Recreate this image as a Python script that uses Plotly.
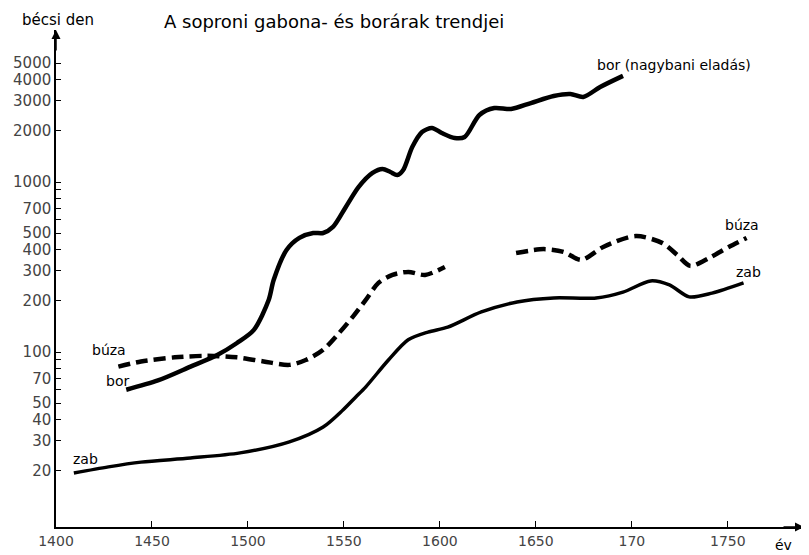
import plotly.graph_objects as go

# bor (wine) price trend, bécsi den
bor_years = [1436.6, 1453.1, 1470.1, 1484.0, 1494.3, 1503.1, 1510.8, 1513.4, 1520.1,
             1526.8, 1534.0, 1539.2, 1544.3, 1551.0, 1557.7, 1564.9, 1570.1, 1574.2, 1577.8,
             1580.9, 1585.6, 1590.7, 1595.9, 1601.0, 1607.7, 1612.9, 1620.6, 1628.4, 1637.1,
             1647.4, 1659.3, 1668.0, 1674.7, 1683.5, 1695.4]
bor_values = [60, 68, 82, 96, 113, 135, 202, 265, 398,
              469, 501, 501, 544, 713, 935, 1130, 1192, 1145, 1099,
              1177, 1607, 1968, 2078, 1942, 1815, 1840, 2479, 2722, 2686,
              2914, 3208, 3296, 3163, 3620, 4209]

# búza (wheat), two separate stretches
buza1_years = [1432.5, 1444.3, 1461.9, 1478.9, 1494.3, 1508.2, 1521.6, 1530.4, 1539.2,
               1547.4, 1554.6, 1561.3, 1568.0, 1575.3, 1583.5, 1592.3, 1602.6]
buza1_values = [82, 88, 93, 95, 93, 88, 84, 90, 103,
                129, 161, 202, 255, 284, 296, 284, 316]
buza2_years = [1639.7, 1654.1, 1664.4, 1673.7, 1685.1, 1702.1, 1716.0, 1723.7, 1730.4,
               1740.2, 1750.5, 1759.8]
buza2_values = [382, 403, 388, 348, 415, 481, 437, 372, 321, 357, 415, 469]

# zab (oats)
zab_years = [1409.3, 1427.3, 1444.3, 1470.1, 1495.9, 1521.6, 1539.2, 1549.5, 1556.2, 1561.3,
             1573.2, 1583.5, 1593.8, 1604.1, 1621.6, 1640.2, 1659.3, 1681.4, 1695.4, 1709.8,
             1719.6, 1729.9, 1741.8, 1758.2]
zab_values = [19.4, 21.1, 22.5, 23.8, 25.5, 29.6, 36.2, 45.6, 54.4, 62.2,
              89.7, 118, 131, 140, 172, 197, 208, 208, 225, 262,
              248, 211, 222, 255]

x_ticks = [1400, 1450, 1500, 1550, 1600, 1650, 1700, 1750]
x_labels = ["1400", "1450", "1500", "1550", "1600", "1650", "170", "1750"]
y_ticks = [20, 30, 40, 50, 60, 70, 80, 90, 100, 200, 300, 400, 500, 600, 700, 800, 900,
           1000, 2000, 3000, 4000, 5000]
y_labels = ["20", "30", "40", "50", "", "70", "", "", "100", "200", "300", "400", "500", "",
            "700", "", "", "1000", "2000", "3000", "4000", "5000"]

FONT = "'DejaVu Sans', sans-serif"

fig = go.Figure()
fig.add_trace(go.Scatter(x=bor_years, y=bor_values, mode="lines", name="bor",
                         line={"color": "black", "width": 4.5, "shape": "spline", "smoothing": 0.8}))
for yrs, vals in [(buza1_years, buza1_values), (buza2_years, buza2_values)]:
    fig.add_trace(go.Scatter(x=yrs, y=vals, mode="lines", name="búza",
                             line={"color": "black", "width": 4.5, "dash": "12px,6px",
                                   "shape": "spline", "smoothing": 0.8}))
fig.add_trace(go.Scatter(x=zab_years, y=zab_values, mode="lines", name="zab",
                         line={"color": "black", "width": 3.5, "shape": "spline", "smoothing": 0.8}))

labels = [
    ("A soproni gabona- és borárak trendjei", 0.1415, 1.018, 18),
    ("bécsi den", -0.0476, 1.020, 15),
    ("bor (nagybani eladás)", 0.7209, 0.9296, 14),
    ("búza", 0.8915, 0.6076, 14),
    ("zab", 0.906, 0.513, 14),
    ("búza", 0.045, 0.356, 14),
    ("bor", 0.0648, 0.2938, 14),
    ("zab", 0.0198, 0.1368, 14),
    ("év", 0.959, -0.036, 14),
]
for text, x, y, size in labels:
    fig.add_annotation(text=text, x=x, y=y, xref="paper", yref="paper", showarrow=False,
                       xanchor="left", yanchor="middle", font={"size": size, "color": "black", "family": FONT})

# axis arrows
fig.add_annotation(x=0, y=1, xref="paper", yref="paper", ax=0, ay=22, showarrow=True,
                   arrowhead=2, arrowsize=1.2, arrowwidth=1.5, arrowcolor="black", text="")
fig.add_annotation(x=1, y=0, xref="paper", yref="paper", ax=-22, ay=0, showarrow=True,
                   arrowhead=2, arrowsize=1.2, arrowwidth=1.5, arrowcolor="black", text="")

# the page body adds an 8px margin, so the figure is 8px smaller and shifted
fig.update_layout(
    width=801, height=547,
    template="plotly_white",
    paper_bgcolor="white", plot_bgcolor="white",
    showlegend=False,
    margin={"l": 40, "r": 5, "t": 22, "b": 28},
    font={"family": FONT, "color": "#444"},
    xaxis={"range": [1400, 1789.7], "tickvals": x_ticks, "ticktext": x_labels,
           "ticks": "inside", "ticklen": 6, "tickcolor": "black", "showgrid": False,
           "zeroline": False, "showline": True, "linecolor": "black", "linewidth": 1.5,
           "tickfont": {"size": 14, "color": "#444"}},
    yaxis={"type": "log", "range": [0.9706, 3.8941], "tickvals": y_ticks, "ticktext": y_labels,
           "ticks": "inside", "ticklen": 5, "tickcolor": "black", "showgrid": False,
           "zeroline": False, "showline": True, "linecolor": "black", "linewidth": 1.5,
           "tickfont": {"size": 15, "color": "#444"}},
)

fig.write_html("out.html")
